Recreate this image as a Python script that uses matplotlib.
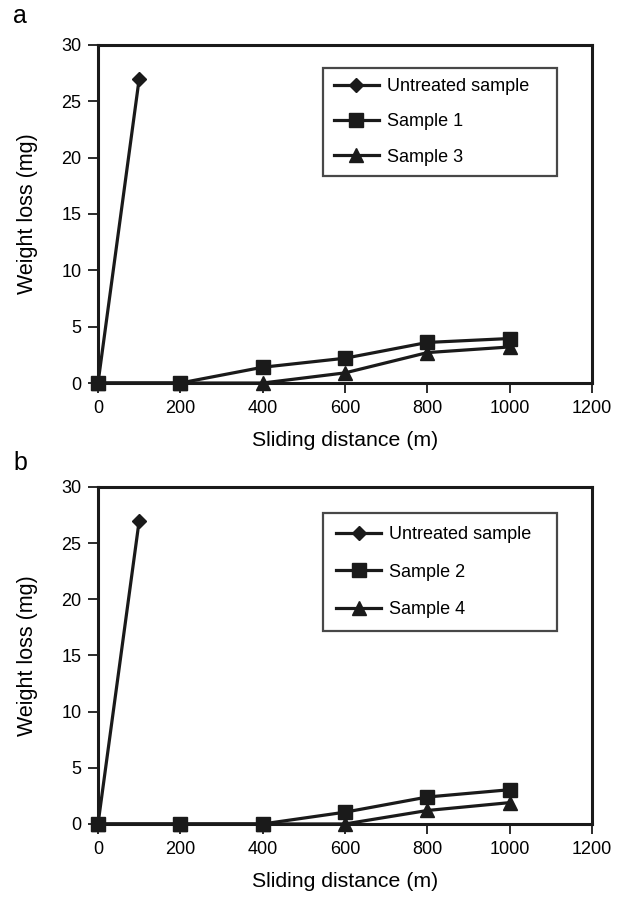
import matplotlib
matplotlib.use('Agg')
from matplotlib import pyplot as plt

plt.rcParams['font.family'] = ['Liberation Sans', 'DejaVu Sans']

# panel a
dist_untreated = [0, 100]
loss_untreated = [0, 27]
dist = [0, 200, 400, 600, 800, 1000]
loss_s1 = [0, 0, 1.4, 2.2, 3.6, 3.95]
loss_s3 = [0, 0, 0, 0.9, 2.7, 3.2]
# panel b
loss_s2 = [0, 0, 0, 1.05, 2.4, 3.05]
loss_s4 = [0, 0, 0, 0, 1.2, 1.9]

xticks = [0, 200, 400, 600, 800, 1000, 1200]
yticks = [0, 5, 10, 15, 20, 25, 30]

fig = plt.figure(figsize=(6.18, 9.01), dpi=100)
ax_a = fig.add_axes([0.1586, 0.5749, 0.7994, 0.3752])
ax_b = fig.add_axes([0.1586, 0.0855, 0.7994, 0.3740])

# ax, letter, letter y, square series, triangle series, legend top, label spacing, border pad
panels = [(ax_a, 'a', 1.066, loss_s1, 'Sample 1', loss_s3, 'Sample 3', 0.932, 1.0, 0.58),
          (ax_b, 'b', 1.05, loss_s2, 'Sample 2', loss_s4, 'Sample 4', 0.923, 1.15, 0.72)]

for ax, letter, let_y, sq, sq_name, tri, tri_name, leg_top, lsp, bpad in panels:
    ax.plot(dist_untreated, loss_untreated, color='#1a1a1a', lw=2.3,
            marker='D', ms=7, label='Untreated sample', clip_on=False)
    ax.plot(dist, sq, color='#1a1a1a', lw=2.3, marker='s', ms=10,
            label=sq_name, clip_on=False)
    ax.plot(dist, tri, color='#1a1a1a', lw=2.3, marker='^', ms=10,
            label=tri_name, clip_on=False)
    ax.set_xlim(0, 1200)
    ax.set_ylim(0, 30)
    ax.set_xticks(xticks)
    ax.set_yticks(yticks)
    ax.tick_params(direction='out', length=7, width=1.3, labelsize=13,
                   color='#1a1a1a', pad=5)
    for s in ax.spines.values():
        s.set_linewidth(2.2)
        s.set_color('#1a1a1a')
    ax.set_xlabel('Sliding distance (m)', fontsize=15.3, labelpad=10)
    ax.set_ylabel('Weight loss (mg)', fontsize=15.5, labelpad=17)
    ax.text(-0.172, let_y, letter, transform=ax.transAxes, fontsize=18, va='baseline')
    leg = ax.legend(loc='upper left', bbox_to_anchor=(0.4555, leg_top, 0.4737, 0),
                    mode='expand', borderaxespad=0, fontsize=13,
                    frameon=True, fancybox=False, edgecolor='#1a1a1a',
                    handlelength=2.5, numpoints=1, labelspacing=lsp,
                    borderpad=bpad, handletextpad=0.45)
    leg.get_frame().set_linewidth(1.6)

fig.savefig('out.png', dpi=100)
